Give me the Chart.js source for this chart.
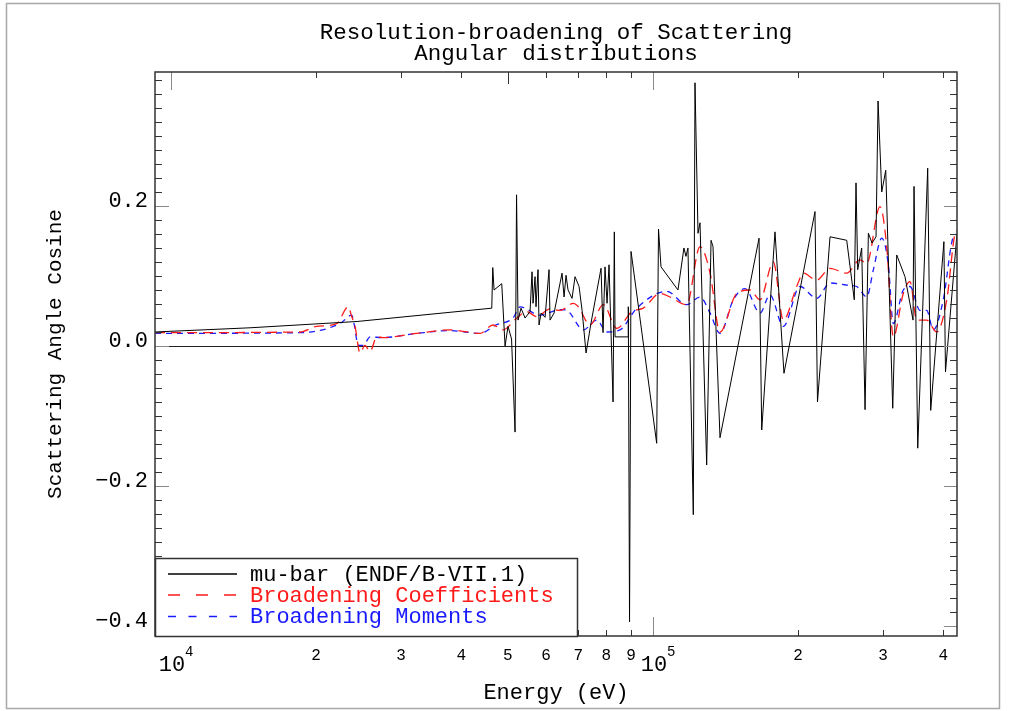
<!DOCTYPE html>
<html><head><meta charset="utf-8">
<script src="https://cdn.jsdelivr.net/npm/chart.js@4.4.0/dist/chart.umd.min.js"></script>
<style>html,body{margin:0;padding:0;background:#fff;overflow:hidden}canvas{display:block}</style>
</head><body>
<canvas id="c" width="1017" height="711"></canvas>
<script>
// ---------- texts ----------
const titleLines = ['Resolution-broadening of Scattering', 'Angular distributions'];
const xAxisTitle = 'Energy (eV)';
const yAxisTitle = 'Scattering Angle Cosine';
const seriesLabels = ['mu-bar (ENDF/B-VII.1)', 'Broadening Coefficients', 'Broadening Moments'];

// ---------- axes ----------
const xMin = 9264, xMax = 427300;
const yMin = -0.4143, yMax = 0.3914;
const xTickValues = [1e4, 2e4, 3e4, 4e4, 5e4, 6e4, 7e4, 8e4, 9e4, 1e5, 2e5, 3e5, 4e5];
const yLabelValues = [-0.4, -0.2, 0, 0.2];

// ---------- series: mu-bar (ENDF/B-VII.1) ----------
const muBarEnergy = [9264, 14590, 24320, 46290, 46510, 46800, 48550, 49330, 50030, 50880,
  51740, 52110, 52480, 53240, 54270, 55580, 56110, 56380, 56920, 57190,
  57740, 58020, 58580, 59720, 60860, 61150, 62340, 64760, 65390, 66010,
  66640, 67930, 68910, 70240, 71260, 72630, 74380, 78020, 78770, 79520,
  80290, 81060, 82630, 83140, 83420, 88760, 88880, 89400, 90050, 101780,
  102670, 103900, 112680, 115940, 117060, 118180, 121240, 122220, 123990, 125180,
  129230, 131970, 133200, 137720, 165960, 168110, 179110, 186970, 216820, 219420,
  232960, 252300, 261580, 263750, 265890, 271020, 275410, 279820, 284790, 290250,
  293050, 298260, 304010, 314350, 320410, 333270, 346340, 348000, 354230, 371490,
  376860, 401370, 404450, 427300];
const muBarValue = [0.020, 0.026, 0.035, 0.054, 0.112, 0.080, 0.089, 0.000, 0.028, 0.010,
  -0.123, 0.216, 0.037, 0.054, 0.040, 0.049, 0.106, 0.061, 0.099, 0.056,
  0.109, 0.030, 0.047, 0.041, 0.109, 0.037, 0.047, 0.104, 0.070, 0.101,
  0.080, 0.068, 0.099, 0.085, 0.051, -0.010, 0.033, 0.111, 0.019, 0.113,
  0.061, 0.116, -0.080, 0.163, 0.013, 0.013, 0.056, -0.394, 0.135, -0.139,
  0.167, 0.113, 0.080, 0.140, 0.128, 0.140, -0.241, 0.376, 0.161, 0.176,
  -0.170, 0.151, 0.142, -0.131, 0.154, -0.120, 0.163, -0.039, 0.192, -0.080,
  0.156, 0.151, 0.066, 0.233, 0.109, 0.140, -0.091, 0.161, 0.147, 0.156,
  0.350, 0.220, 0.251, -0.089, 0.130, 0.099, 0.037, 0.228, -0.146, 0.254,
  -0.092, 0.149, -0.037, 0.161];

// ---------- series: Broadening Coefficients ----------
const coefEnergy = [9264, 18520, 20060, 22070, 23330, 23710, 24090, 24670, 25260, 25880,
  26720, 27530, 32350, 37930, 43770, 46570, 48850, 52160, 54710, 57390,
  61150, 64150, 68360, 70010, 74030, 78880, 84110, 90350, 95480, 103400,
  108460, 117460, 125180, 131360, 137720, 149170, 158960, 166730, 177670, 186370,
  198700, 205000, 218580, 232960, 252300, 268830, 277630, 295800, 305450, 315220,
  330600, 341370, 352520, 369700, 387870, 406870, 423350, 427300];
const coefValue = [0.019, 0.020, 0.028, 0.032, 0.056, 0.042, 0.028, -0.010, 0.001, -0.008,
  0.013, 0.012, 0.018, 0.023, 0.018, 0.030, 0.023, 0.040, 0.049, 0.042,
  0.053, 0.051, 0.061, 0.056, 0.030, 0.059, 0.025, 0.049, 0.054, 0.075,
  0.070, 0.059, 0.142, 0.104, 0.020, 0.075, 0.080, 0.066, 0.120, 0.037,
  0.085, 0.104, 0.094, 0.111, 0.104, 0.123, 0.118, 0.199, 0.142, 0.013,
  0.075, 0.092, 0.037, 0.037, 0.020, 0.066, 0.161, 0.165];

// ---------- series: Broadening Moments ----------
const momEnergy = [9264, 18520, 22420, 23710, 23970, 24470, 25060, 25880, 27530, 32350,
  37930, 43770, 47180, 51240, 52990, 58300, 64150, 66230, 71700, 76440,
  80180, 85440, 92540, 106760, 117460, 125180, 131360, 137720, 146750, 155220,
  166730, 174860, 186370, 201830, 218580, 232960, 252300, 264590, 277630, 286570,
  298260, 307780, 315220, 330600, 341370, 358050, 369700, 381600, 400190, 419840,
  427300];
const momValue = [0.018, 0.019, 0.032, 0.044, 0.032, 0.001, 0.001, 0.013, 0.012, 0.018,
  0.022, 0.018, 0.030, 0.040, 0.056, 0.044, 0.052, 0.051, 0.023, 0.037,
  0.020, 0.023, 0.054, 0.078, 0.059, 0.070, 0.047, 0.018, 0.066, 0.082,
  0.047, 0.073, 0.028, 0.085, 0.068, 0.090, 0.087, 0.085, 0.070, 0.109,
  0.154, 0.116, 0.032, 0.080, 0.085, 0.051, 0.051, 0.023, 0.066, 0.156,
  0.160];

// ---------- build ----------
const toPts = (xs, ys) => xs.map((e, i) => ({x: e, y: ys[i]}));
const MONO = '"Liberation Mono", "DejaVu Sans Mono", monospace';
const colors = ['#000000', '#ff1a1a', '#1a1aff'];
const plotDash = [[], [10, 6], [6, 5]];
const legendDash = [[], [12, 16], [8, 12.5]];

const decorations = {
  id: 'decorations',
  beforeDraw(chart) {
    const {ctx} = chart;
    ctx.save();
    ctx.fillStyle = '#fff';
    ctx.fillRect(0, 0, chart.width, chart.height);
    ctx.strokeStyle = '#a8a8a8';
    ctx.lineWidth = 1.5;
    ctx.strokeRect(6.5, 3.5, 993, 705);
    ctx.restore();
  },
  beforeDatasetsDraw(chart) {
    const {ctx, chartArea: a, scales: {y}} = chart;
    const y0 = Math.round(y.getPixelForValue(0)) + 0.5;
    ctx.save();
    ctx.strokeStyle = '#222';
    ctx.lineWidth = 1;
    ctx.beginPath(); ctx.moveTo(a.left, y0); ctx.lineTo(a.right, y0); ctx.stroke();
    ctx.restore();
  },
  afterDatasetsDraw(chart) {
    const {ctx, chartArea: a, scales: {x, y}} = chart;
    const seg = (x1, y1, x2, y2) => { ctx.beginPath(); ctx.moveTo(x1, y1); ctx.lineTo(x2, y2); ctx.stroke(); };
    ctx.save();
    ctx.lineWidth = 1;
    // x ticks (bottom & top, inward)
    x.ticks.forEach(t => {
      const v = t.value;
      const px = Math.round(x.getPixelForValue(v)) + 0.5;
      const lg = Math.log10(v);
      const dec = Math.abs(lg - Math.round(lg)) < 1e-9;
      ctx.strokeStyle = dec ? '#8a8a8a' : '#333';
      seg(px, a.bottom, px, a.bottom - (dec ? 19 : 6));
      seg(px, a.top, px, a.top + (dec ? 18 : (v === 5e4 ? 12 : 6)));
    });
    // y ticks every 0.02 (left & right, inward)
    for (let i = -20; i <= 19; i++) {
      const v = i * 0.02;
      const py = Math.round(y.getPixelForValue(v)) + 0.5;
      const major = i % 10 === 0;
      ctx.strokeStyle = major ? '#8a8a8a' : '#333';
      seg(a.left, py, a.left + (major ? 14 : 7), py);
      seg(a.right, py, a.right - (major ? 13 : 7), py);
    }
    // plot frame
    ctx.strokeStyle = '#333';
    ctx.lineWidth = 1.5;
    ctx.strokeRect(a.left, a.top, a.right - a.left, a.bottom - a.top);
    // legend box
    const lx = a.left, ly = 558, lw = 422, lh = a.bottom - 558;
    ctx.fillStyle = '#fff';
    ctx.fillRect(lx, ly, lw, lh);
    ctx.strokeRect(lx + 0.5, ly + 0.5, lw, lh);
    const rows = [574, 595, 616.5];
    ctx.font = '22px ' + MONO;
    ctx.textBaseline = 'middle';
    ctx.textAlign = 'left';
    chart.data.datasets.forEach((ds, i) => {
      ctx.strokeStyle = ds.borderColor;
      ctx.lineWidth = 1.5;
      ctx.setLineDash(legendDash[i]);
      seg(168, rows[i], 237, rows[i]);
      ctx.setLineDash([]);
      ctx.fillStyle = ds.borderColor;
      ctx.fillText(ds.label, 250, rows[i] + 1);
    });
    // decade labels 10^n
    ctx.fillStyle = '#000';
    x.ticks.forEach(t => {
      const lg = Math.log10(t.value);
      if (Math.abs(lg - Math.round(lg)) > 1e-9) return;
      const px = x.getPixelForValue(t.value);
      ctx.font = '22px ' + MONO;
      ctx.textAlign = 'center';
      ctx.fillText('10', px + 1, 665);
      ctx.font = '14px ' + MONO;
      ctx.textAlign = 'left';
      ctx.fillText(String(Math.round(lg)), px + 14, 652);
    });
    ctx.restore();
  }
};

new Chart(document.getElementById('c'), {
  type: 'line',
  data: {
    datasets: [
      {label: seriesLabels[0], data: toPts(muBarEnergy, muBarValue), borderColor: colors[0], borderWidth: 1, borderDash: plotDash[0]},
      {label: seriesLabels[1], data: toPts(coefEnergy, coefValue), borderColor: colors[1], borderWidth: 1.3, borderDash: plotDash[1], cubicInterpolationMode: 'monotone'},
      {label: seriesLabels[2], data: toPts(momEnergy, momValue), borderColor: colors[2], borderWidth: 1.3, borderDash: plotDash[2], cubicInterpolationMode: 'monotone'}
    ]
  },
  options: {
    responsive: false,
    animation: false,
    devicePixelRatio: 1,
    layout: {padding: {left: 7, right: 60, top: 0, bottom: 0}},
    elements: {point: {radius: 0}, line: {tension: 0, fill: false}},
    plugins: {
      legend: {display: false},
      tooltip: {enabled: false},
      title: {
        display: true,
        fullSize: false,
        text: titleLines,
        color: '#000',
        font: {family: MONO, size: 22.5, weight: 'normal', lineHeight: 21 / 22.5},
        padding: {top: 22.5, bottom: 7.5}
      }
    },
    scales: {
      x: {
        type: 'logarithmic',
        min: xMin, max: xMax,
        grid: {display: false, drawTicks: false},
        border: {display: false},
        afterBuildTicks: s => { s.ticks = xTickValues.map(v => ({value: v})); },
        afterFit: s => { s.height = 75; s.paddingLeft = 0; s.paddingRight = 0; },
        ticks: {
          autoSkip: false, maxRotation: 0, minRotation: 0,
          color: '#000', padding: 10,
          font: {family: MONO, size: 16},
          callback: v => {
            const lg = Math.log10(v);
            if (Math.abs(lg - Math.round(lg)) < 1e-9) return '';
            return String(Math.round(v / Math.pow(10, Math.floor(lg))));
          }
        },
        title: {display: true, text: xAxisTitle, color: '#000', font: {family: MONO, size: 22}, padding: {top: 0, bottom: 5}}
      },
      y: {
        type: 'linear',
        min: yMin, max: yMax,
        grid: {display: false, drawTicks: false},
        border: {display: false},
        afterBuildTicks: s => { s.ticks = yLabelValues.map(v => ({value: v})); },
        afterFit: s => { s.width = 148; s.paddingTop = 0; s.paddingBottom = 0; },
        ticks: {
          color: '#000', padding: 7, labelOffset: -5,
          font: {family: MONO, size: 22},
          callback: v => (v < 0 ? '\u2212' : '') + Math.abs(v).toFixed(1)
        },
        title: {display: true, text: yAxisTitle, color: '#000', font: {family: MONO, size: 21}, padding: {top: 35.8, bottom: 0}}
      }
    }
  },
  plugins: [decorations]
});
</script>
</body></html>
